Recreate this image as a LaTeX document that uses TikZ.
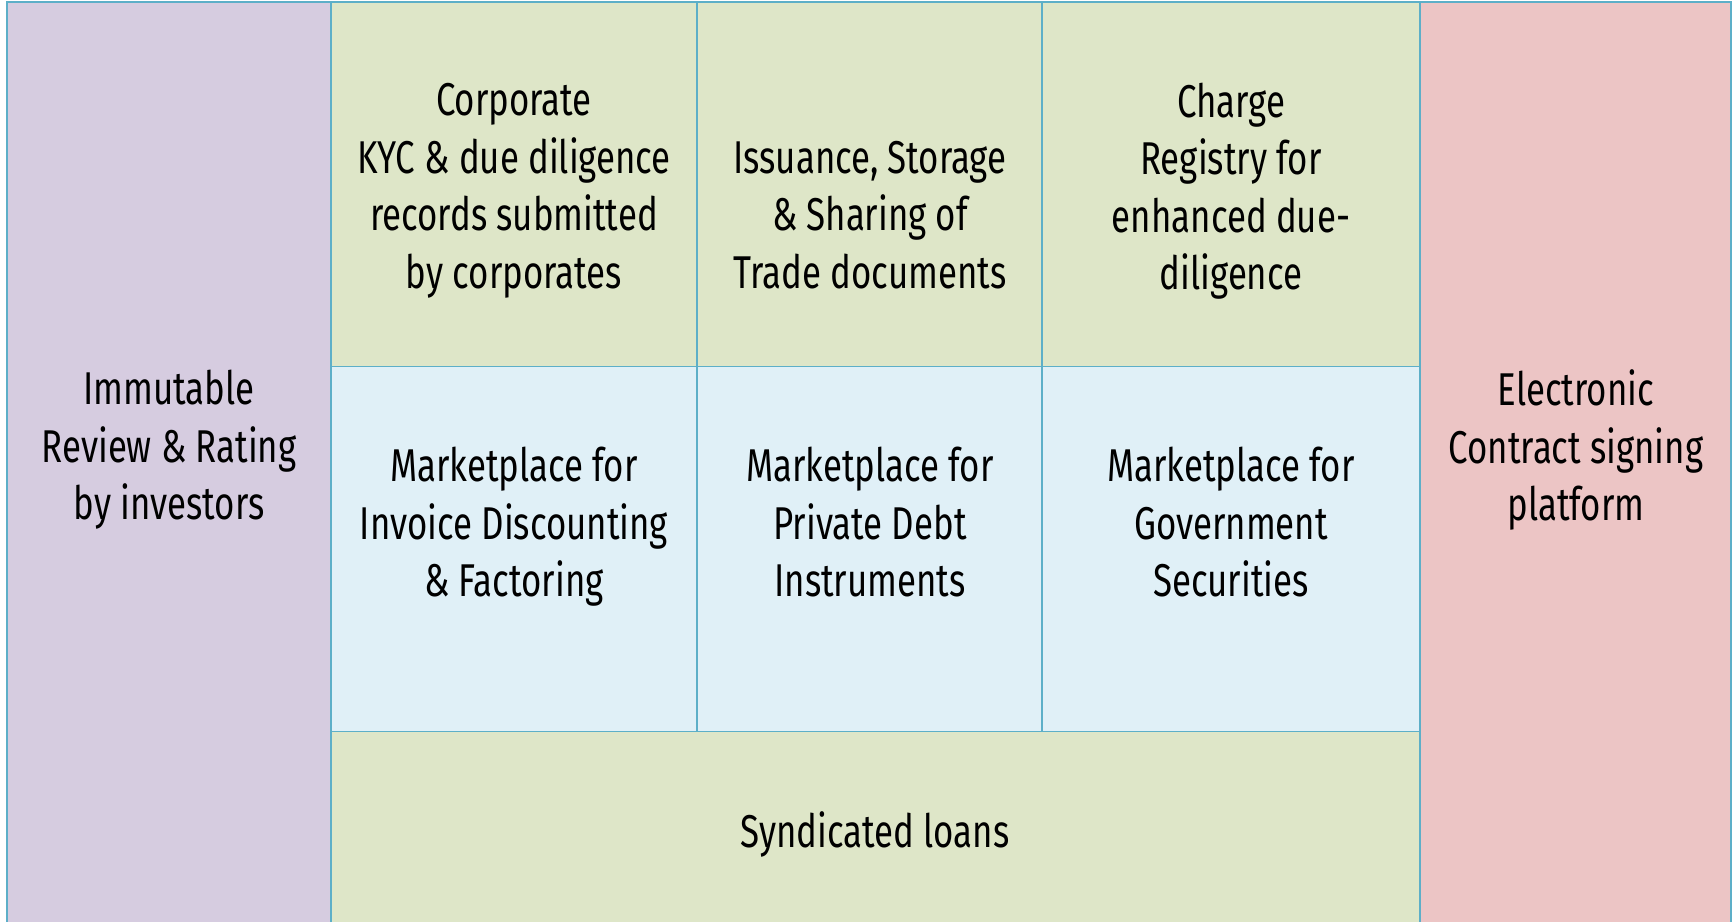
\documentclass[tikz,border=0pt]{standalone}
\usepackage{fontspec}
\setmainfont{Fira Sans}[FakeStretch=0.757]
\definecolor{cpurple}{RGB}{214,204,224}
\definecolor{cgreen}{RGB}{222,230,200}
\definecolor{cblue}{RGB}{224,240,247}
\definecolor{cpink}{RGB}{236,197,197}
\definecolor{lineblue}{RGB}{93,175,200}
\newcommand\lblfont{\fontsize{23}{28.75}\selectfont}
\newlength\lbldp
\begin{document}
\settodepth{\lbldp}{\lblfont gpy}
\tikzset{
  cell/.style={draw=lineblue, line width=0.6pt},
  lbl/.style={align=center, font=\lblfont, text=black, inner sep=0pt, text depth=\lbldp}
}
\begin{tikzpicture}[x=0.5pt,y=-0.5pt]
\useasboundingbox (0,0) rectangle (1732,921);
\clip (0,0) rectangle (1732,921);
% cells
\path[cell, fill=cpurple] (7,2) rectangle (331,930);
\path[cell, fill=cgreen] (331,2) rectangle (697,366.7);
\path[cell, fill=cgreen] (697,2) rectangle (1042,366.7);
\path[cell, fill=cgreen] (1042,2) rectangle (1420,366.7);
\path[cell, fill=cblue] (331,366.7) rectangle (697,731.7);
\path[cell, fill=cblue] (697,366.7) rectangle (1042,731.7);
\path[cell, fill=cblue] (1042,366.7) rectangle (1420,731.7);
\path[cell, fill=cgreen] (331,731.7) rectangle (1420,930);
\path[cell, fill=cpink] (1420,2) rectangle (1731,930);
% labels
\node[lbl] (review) at (169,450) {Immutable\\Review \& Rating\\by investors};
\node[lbl] (kyc) at (514,191) {Corporate\\KYC \& due diligence\\records submitted\\by corporates};
\node[lbl] (trade) at (870,219.5) {Issuance, Storage\\\& Sharing of\\Trade documents};
\node[lbl] (charge) at (1231,191) {Charge\\Registry for\\enhanced due-\\diligence};
\node[lbl] (invoice) at (514,527) {Marketplace for\\Invoice Discounting\\\& Factoring};
\node[lbl] (debt) at (870,527) {Marketplace for\\Private Debt\\Instruments};
\node[lbl] (gov) at (1231,527) {Marketplace for\\Government\\Securities};
\node[lbl] (synd) at (875,834) {Syndicated loans};
\node[lbl] (esign) at (1576,450) {Electronic\\Contract signing\\platform};
\end{tikzpicture}
\end{document}
